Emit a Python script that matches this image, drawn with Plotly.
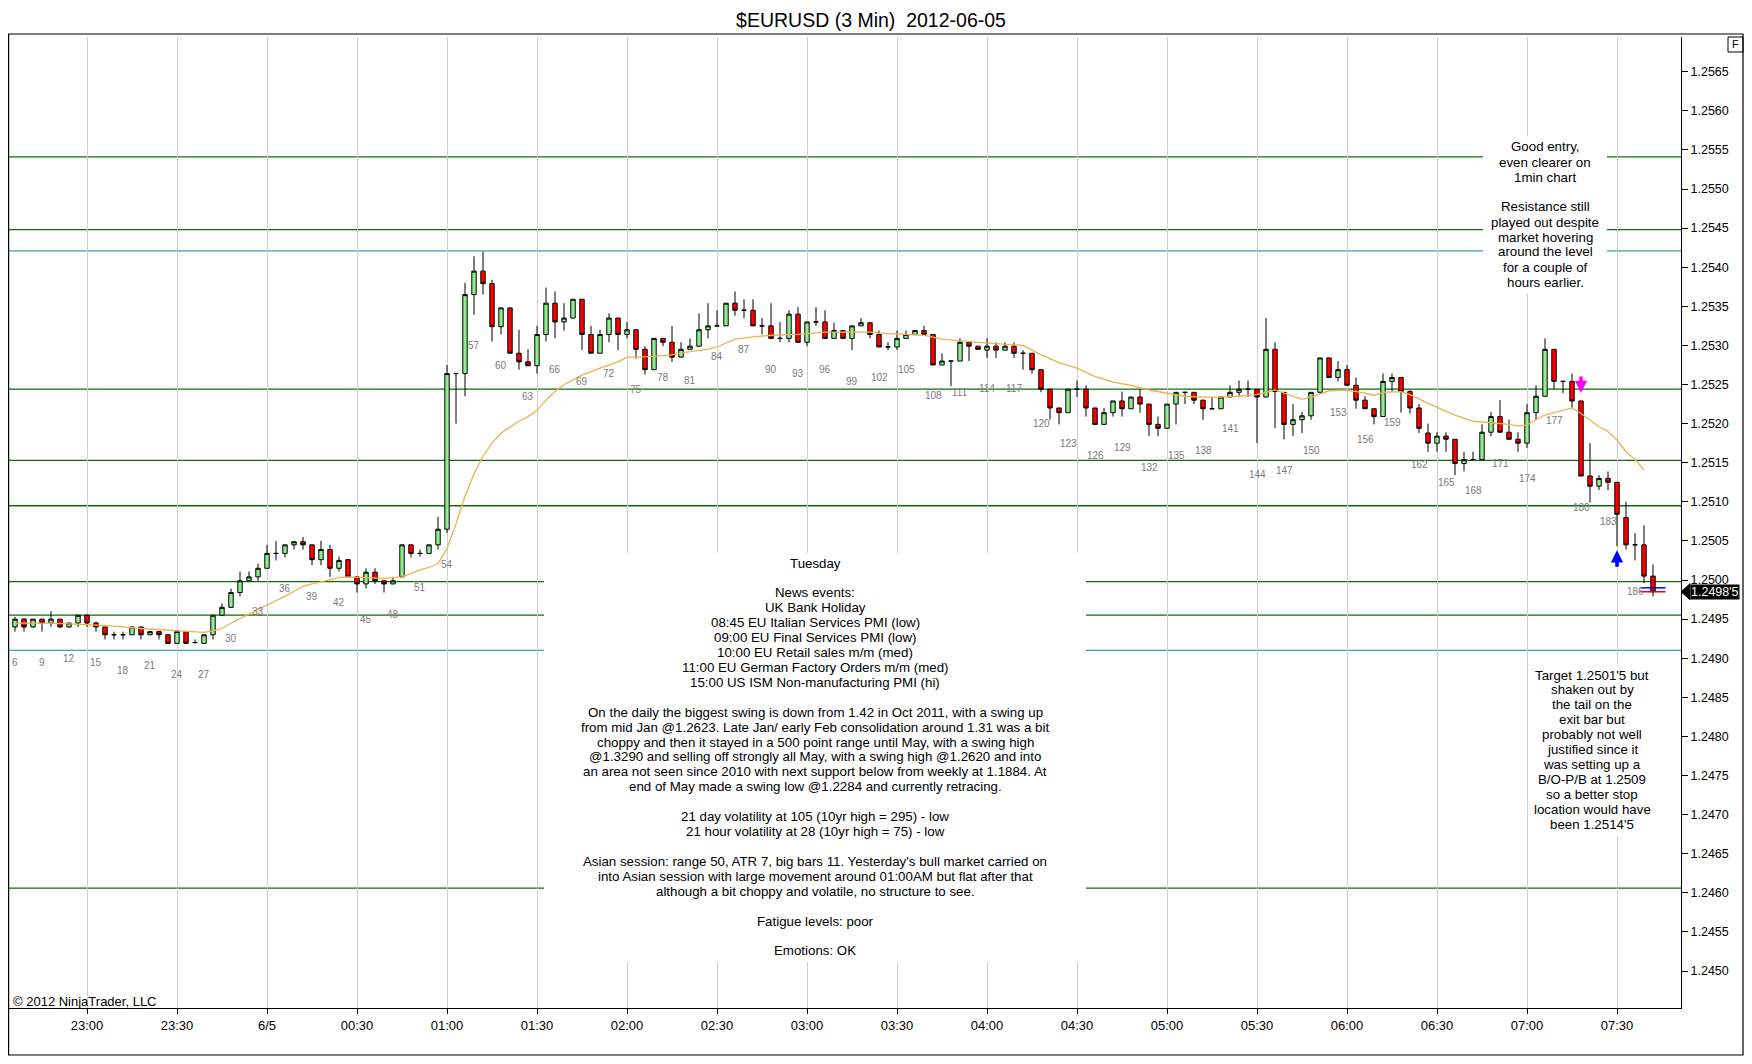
import plotly.graph_objects as go

# 3 min bars, numbered as on the chart (bar 14 = 23:00)
bars = list(range(6, 189))

opens = [
    1.24940, 1.24950, 1.24940, 1.24950, 1.24945, 1.24950, 1.24940, 1.24945, 1.24955, 1.24945,
    1.24940, 1.24930, 1.24930, 1.24930, 1.24940, 1.24930, 1.24934, 1.24930, 1.24919, 1.24934,
    1.24920, 1.24919, 1.24930, 1.24955, 1.24965, 1.24984, 1.24999, 1.25004, 1.25015, 1.25034,
    1.25034, 1.25045, 1.25049, 1.25045, 1.25026, 1.25039, 1.25015, 1.25026, 1.25004, 1.24995,
    1.25010, 1.24999, 1.24995, 1.25004, 1.25045, 1.25034, 1.25034, 1.25045, 1.25065, 1.25264,
    1.25264, 1.25365, 1.25395, 1.25379, 1.25324, 1.25348, 1.25290, 1.25279, 1.25274, 1.25314,
    1.25354, 1.25330, 1.25335, 1.25359, 1.25314, 1.25290, 1.25314, 1.25335, 1.25314, 1.25320,
    1.25295, 1.25269, 1.25309, 1.25304, 1.25285, 1.25295, 1.25299, 1.25320, 1.25325, 1.25325,
    1.25354, 1.25345, 1.25345, 1.25325, 1.25325, 1.25309, 1.25309, 1.25340, 1.25304, 1.25330,
    1.25330, 1.25309, 1.25319, 1.25309, 1.25325, 1.25329, 1.25314, 1.25298, 1.25298, 1.25309,
    1.25314, 1.25319, 1.25314, 1.25275, 1.25280, 1.25280, 1.25304, 1.25299, 1.25294, 1.25299,
    1.25294, 1.25299, 1.25290, 1.25290, 1.25269, 1.25244, 1.25220, 1.25214, 1.25244, 1.25244,
    1.25220, 1.25199, 1.25214, 1.25229, 1.25219, 1.25234, 1.25225, 1.25199, 1.25194, 1.25225,
    1.25240, 1.25240, 1.25230, 1.25219, 1.25219, 1.25234, 1.25240, 1.25244, 1.25244, 1.25234,
    1.25295, 1.25240, 1.25199, 1.25205, 1.25210, 1.25240, 1.25284, 1.25259, 1.25269, 1.25249,
    1.25230, 1.25219, 1.25209, 1.25254, 1.25259, 1.25241, 1.25220, 1.25188, 1.25175, 1.25184,
    1.25180, 1.25149, 1.25154, 1.25154, 1.25189, 1.25209, 1.25189, 1.25180, 1.25175, 1.25214,
    1.25235, 1.25295, 1.25254, 1.25254, 1.25229, 1.25133, 1.25120, 1.25130, 1.25125, 1.25080,
    1.25045, 1.25045, 1.25005]

highs = [
    1.24953, 1.24951, 1.24950, 1.24950, 1.24960, 1.24950, 1.24945, 1.24955, 1.24956, 1.24947,
    1.24940, 1.24934, 1.24934, 1.24940, 1.24940, 1.24935, 1.24935, 1.24930, 1.24934, 1.24934,
    1.24924, 1.24930, 1.24955, 1.24970, 1.24989, 1.25011, 1.25011, 1.25021, 1.25045, 1.25050,
    1.25045, 1.25049, 1.25055, 1.25045, 1.25050, 1.25045, 1.25030, 1.25026, 1.25004, 1.25015,
    1.25015, 1.24999, 1.25004, 1.25045, 1.25045, 1.25039, 1.25045, 1.25081, 1.25275, 1.25265,
    1.25380, 1.25414, 1.25420, 1.25384, 1.25348, 1.25348, 1.25320, 1.25295, 1.25325, 1.25374,
    1.25369, 1.25354, 1.25359, 1.25359, 1.25325, 1.25320, 1.25341, 1.25335, 1.25330, 1.25320,
    1.25299, 1.25309, 1.25309, 1.25325, 1.25304, 1.25309, 1.25341, 1.25354, 1.25345, 1.25354,
    1.25369, 1.25359, 1.25359, 1.25335, 1.25354, 1.25330, 1.25345, 1.25349, 1.25330, 1.25349,
    1.25345, 1.25329, 1.25319, 1.25325, 1.25335, 1.25329, 1.25319, 1.25304, 1.25319, 1.25319,
    1.25319, 1.25325, 1.25314, 1.25290, 1.25280, 1.25309, 1.25304, 1.25299, 1.25309, 1.25304,
    1.25304, 1.25304, 1.25294, 1.25290, 1.25269, 1.25244, 1.25220, 1.25244, 1.25255, 1.25249,
    1.25220, 1.25220, 1.25229, 1.25241, 1.25234, 1.25244, 1.25225, 1.25209, 1.25225, 1.25240,
    1.25240, 1.25240, 1.25230, 1.25234, 1.25234, 1.25249, 1.25255, 1.25255, 1.25244, 1.25335,
    1.25304, 1.25240, 1.25225, 1.25215, 1.25240, 1.25284, 1.25284, 1.25280, 1.25275, 1.25259,
    1.25235, 1.25219, 1.25264, 1.25264, 1.25259, 1.25243, 1.25225, 1.25200, 1.25189, 1.25189,
    1.25180, 1.25164, 1.25164, 1.25199, 1.25215, 1.25230, 1.25205, 1.25189, 1.25225, 1.25249,
    1.25309, 1.25295, 1.25254, 1.25264, 1.25229, 1.25175, 1.25134, 1.25139, 1.25125, 1.25100,
    1.25060, 1.25070, 1.25020]

lows = [
    1.24934, 1.24934, 1.24939, 1.24934, 1.24940, 1.24939, 1.24939, 1.24940, 1.24940, 1.24934,
    1.24924, 1.24924, 1.24924, 1.24930, 1.24924, 1.24930, 1.24924, 1.24919, 1.24919, 1.24919,
    1.24919, 1.24919, 1.24924, 1.24954, 1.24965, 1.24979, 1.24999, 1.24999, 1.25015, 1.25025,
    1.25029, 1.25039, 1.25039, 1.25019, 1.25019, 1.25004, 1.25011, 1.25004, 1.24984, 1.24989,
    1.24995, 1.24984, 1.24995, 1.25004, 1.25029, 1.25030, 1.25034, 1.25039, 1.25060, 1.25200,
    1.25235, 1.25339, 1.25365, 1.25305, 1.25314, 1.25290, 1.25269, 1.25274, 1.25264, 1.25305,
    1.25309, 1.25319, 1.25335, 1.25294, 1.25290, 1.25290, 1.25304, 1.25294, 1.25309, 1.25283,
    1.25263, 1.25269, 1.25299, 1.25279, 1.25285, 1.25295, 1.25299, 1.25309, 1.25325, 1.25325,
    1.25338, 1.25335, 1.25325, 1.25314, 1.25309, 1.25304, 1.25304, 1.25304, 1.25299, 1.25325,
    1.25309, 1.25309, 1.25309, 1.25294, 1.25325, 1.25309, 1.25298, 1.25294, 1.25294, 1.25309,
    1.25314, 1.25314, 1.25275, 1.25275, 1.25248, 1.25280, 1.25280, 1.25295, 1.25284, 1.25284,
    1.25294, 1.25284, 1.25269, 1.25264, 1.25240, 1.25205, 1.25199, 1.25214, 1.25234, 1.25209,
    1.25199, 1.25199, 1.25209, 1.25209, 1.25219, 1.25214, 1.25184, 1.25184, 1.25194, 1.25199,
    1.25225, 1.25225, 1.25205, 1.25219, 1.25219, 1.25234, 1.25234, 1.25234, 1.25175, 1.25234,
    1.25194, 1.25180, 1.25184, 1.25188, 1.25205, 1.25240, 1.25259, 1.25254, 1.25249, 1.25219,
    1.25219, 1.25199, 1.25209, 1.25241, 1.25214, 1.25213, 1.25188, 1.25164, 1.25164, 1.25164,
    1.25134, 1.25139, 1.25154, 1.25154, 1.25184, 1.25189, 1.25180, 1.25164, 1.25169, 1.25205,
    1.25235, 1.25244, 1.25239, 1.25220, 1.25133, 1.25099, 1.25115, 1.25115, 1.25043, 1.25039,
    1.25025, 1.24996, 1.24979]

closes = [
    1.24950, 1.24940, 1.24950, 1.24945, 1.24950, 1.24940, 1.24945, 1.24955, 1.24945, 1.24940,
    1.24930, 1.24930, 1.24930, 1.24940, 1.24930, 1.24934, 1.24930, 1.24919, 1.24934, 1.24919,
    1.24920, 1.24930, 1.24955, 1.24965, 1.24984, 1.24999, 1.25004, 1.25015, 1.25034, 1.25034,
    1.25045, 1.25049, 1.25045, 1.25026, 1.25039, 1.25015, 1.25025, 1.25004, 1.24995, 1.25010,
    1.24999, 1.24995, 1.24999, 1.25045, 1.25034, 1.25034, 1.25045, 1.25065, 1.25264, 1.25264,
    1.25365, 1.25395, 1.25379, 1.25324, 1.25348, 1.25290, 1.25279, 1.25274, 1.25314, 1.25354,
    1.25330, 1.25335, 1.25359, 1.25314, 1.25290, 1.25314, 1.25335, 1.25314, 1.25320, 1.25295,
    1.25269, 1.25309, 1.25304, 1.25285, 1.25295, 1.25299, 1.25320, 1.25325, 1.25325, 1.25354,
    1.25345, 1.25345, 1.25325, 1.25325, 1.25309, 1.25309, 1.25340, 1.25304, 1.25330, 1.25330,
    1.25309, 1.25319, 1.25309, 1.25325, 1.25329, 1.25314, 1.25298, 1.25298, 1.25309, 1.25314,
    1.25319, 1.25314, 1.25275, 1.25280, 1.25280, 1.25304, 1.25299, 1.25295, 1.25299, 1.25294,
    1.25299, 1.25290, 1.25290, 1.25269, 1.25244, 1.25220, 1.25214, 1.25244, 1.25244, 1.25220,
    1.25199, 1.25214, 1.25229, 1.25219, 1.25234, 1.25225, 1.25199, 1.25194, 1.25225, 1.25240,
    1.25240, 1.25230, 1.25219, 1.25219, 1.25234, 1.25240, 1.25244, 1.25244, 1.25234, 1.25295,
    1.25241, 1.25199, 1.25205, 1.25210, 1.25240, 1.25284, 1.25259, 1.25269, 1.25249, 1.25230,
    1.25219, 1.25209, 1.25254, 1.25259, 1.25241, 1.25220, 1.25194, 1.25175, 1.25184, 1.25180,
    1.25149, 1.25154, 1.25154, 1.25189, 1.25209, 1.25189, 1.25180, 1.25175, 1.25214, 1.25235,
    1.25295, 1.25254, 1.25254, 1.25229, 1.25133, 1.25120, 1.25130, 1.25125, 1.25084, 1.25045,
    1.25045, 1.25005, 1.24985]

# moving average
ema_bars = [6, 10, 14, 17, 20, 24, 26, 27, 28, 29, 30, 31, 32, 33, 34, 36, 38, 39, 41, 42,
            43, 45, 47, 49, 51, 52, 53, 54, 55, 56, 57, 58, 59, 60, 61, 62, 63, 64, 65, 66,
            67, 68, 69, 71, 73, 74, 75, 77, 79, 81, 83, 84, 86, 88, 90, 93, 96, 101, 103, 107,
            109, 113, 117, 118, 120, 122, 124, 126, 128, 130, 132, 134, 136, 138, 140, 142, 144, 146, 148, 149,
            150, 152, 154, 156, 157, 158, 160, 161, 163, 166, 168, 170, 172, 173, 174, 175, 176, 178, 179, 180,
            182, 183, 184, 185, 186, 187]
ema_values = [1.24945, 1.24945, 1.24943, 1.24941, 1.24938, 1.24935, 1.24933, 1.24933, 1.24935, 1.24938,
              1.24945, 1.24951, 1.24957, 1.24963, 1.24968, 1.24979, 1.24992, 1.24995, 1.25000, 1.25003,
              1.25004, 1.25003, 1.25002, 1.25004, 1.25013, 1.25016, 1.25021, 1.25040, 1.25072, 1.25107,
              1.25136, 1.25158, 1.25175, 1.25188, 1.25196, 1.25203, 1.25209, 1.25217, 1.25230, 1.25241,
              1.25250, 1.25256, 1.25262, 1.25271, 1.25279, 1.25285, 1.25285, 1.25286, 1.25288, 1.25292,
              1.25295, 1.25298, 1.25308, 1.25311, 1.25313, 1.25314, 1.25317, 1.25317, 1.25315, 1.25313,
              1.25308, 1.25304, 1.25301, 1.25300, 1.25288, 1.25278, 1.25271, 1.25260, 1.25253, 1.25249,
              1.25243, 1.25239, 1.25235, 1.25234, 1.25234, 1.25235, 1.25237, 1.25243, 1.25235, 1.25231,
              1.25234, 1.25242, 1.25243, 1.25239, 1.25236, 1.25240, 1.25241, 1.25237, 1.25226, 1.25211,
              1.25203, 1.25201, 1.25199, 1.25197, 1.25198, 1.25205, 1.25211, 1.25217, 1.25220, 1.25213,
              1.25196, 1.25190, 1.25179, 1.25164, 1.25154, 1.25141]

green_levels = [1.25541, 1.25448, 1.25244, 1.25153, 1.25095, 1.24998, 1.24955, 1.24606]
teal_levels = [1.25421, 1.24910]

label_bars = list(range(6, 187, 3))

x_tick_bars = [14, 24, 34, 44, 54, 64, 74, 84, 94, 104, 114, 124, 134, 144, 154, 164, 174, 184]
x_tick_text = ["23:00", "23:30", "6/5", "00:30", "01:00", "01:30", "02:00", "02:30", "03:00",
               "03:30", "04:00", "04:30", "05:00", "05:30", "06:00", "06:30", "07:00", "07:30"]
y_ticks = [1.2450, 1.2455, 1.2460, 1.2465, 1.2470, 1.2475, 1.2480, 1.2485, 1.2490, 1.2495,
           1.2500, 1.2505, 1.2510, 1.2515, 1.2520, 1.2525, 1.2530, 1.2535, 1.2540, 1.2545,
           1.2550, 1.2555, 1.2560, 1.2565]

# entry / exit arrows and order marks on the last bar
short_entry = (180, 1.25239)
cover_exit = (184, 1.25038)
order_marks = [1.24990, 1.24985]

notes_center = [
    "Tuesday", "", "News events:", "UK Bank Holiday",
    "08:45 EU Italian Services PMI (low)",
    "09:00 EU Final Services PMI (low)",
    "10:00 EU Retail sales m/m (med)",
    "11:00 EU German Factory Orders m/m (med)",
    "15:00 US ISM Non-manufacturing PMI (hi)", "",
    "On the daily the biggest swing is down from 1.42 in Oct 2011, with a swing up",
    "from mid Jan @1.2623. Late Jan/ early Feb consolidation around 1.31 was a bit",
    "choppy and then it stayed in a 500 point range until May, with a swing high",
    "@1.3290 and selling off strongly all May, with a swing high @1.2620 and into",
    "an area not seen since 2010 with next support below from weekly at 1.1884. At",
    "end of May made a swing low @1.2284 and currently retracing.", "",
    "21 day volatility at 105 (10yr high = 295) - low",
    "21 hour volatility at 28 (10yr high = 75) - low", "",
    "Asian session: range 50, ATR 7, big bars 11. Yesterday's bull market carried on",
    "into Asian session with large movement around 01:00AM but flat after that",
    "although a bit choppy and volatile, no structure to see.", "",
    "Fatigue levels: poor", "",
    "Emotions: OK"]
notes_top = ["Good entry,", "even clearer on", "1min chart", "",
             "Resistance still", "played out despite", "market hovering",
             "around the level", "for a couple of", "hours earlier."]
notes_bottom = ["Target 1.2501'5 but", "shaken out by", "the tail on the", "exit bar but",
                "probably not well", "justified since it", "was setting up a",
                "B/O-P/B at 1.2509", "so a better stop", "location would have", "been 1.2514'5"]

# page geometry in screen pixels; the page body adds an 8px margin all round
OFF = 8
W, H = 1752 - 2 * OFF, 1064 - 2 * OFF
PLOT_L, PLOT_R, PLOT_T, PLOT_B = 8, 1681, 37, 1008
PW, PH = PLOT_R - PLOT_L, PLOT_B - PLOT_T
FONT = "Liberation Sans, Arial, sans-serif"


def px(x):
    return (x - PLOT_L) / PW


def py(y):
    return (PLOT_B - y) / PH


fig = go.Figure()

fig.add_trace(go.Scatter(x=ema_bars, y=ema_values, mode='lines',
                         line=dict(color='#F0B050', width=1.3), hoverinfo='skip'))

fig.add_trace(go.Candlestick(x=bars, open=opens, high=highs, low=lows, close=closes,
                             increasing=dict(fillcolor='#90EE90', line=dict(color='black', width=1)),
                             decreasing=dict(fillcolor='#FF0000', line=dict(color='black', width=1)),
                             whiskerwidth=0))

fig.add_trace(go.Scatter(x=[bars[-1], bars[-1]], y=order_marks, mode='markers',
                         marker=dict(symbol='line-ew', size=18,
                                     line=dict(color=['#0000FF', '#FF0000'], width=1.5)),
                         hoverinfo='skip'))

shapes = []
for lvl in green_levels:
    shapes.append(dict(type='line', xref='paper', yref='y', x0=0, x1=1, y0=lvl, y1=lvl,
                       line=dict(color='#0A6E0A', width=1.3), layer='between'))
for lvl in teal_levels:
    shapes.append(dict(type='line', xref='paper', yref='y', x0=0, x1=1, y0=lvl, y1=lvl,
                       line=dict(color='#34A3AE', width=1.3), layer='between'))

# white text boxes (hide the lines behind the notes)
for (x0, x1, y0, y1) in [(544, 1086, 553, 962), (1483, 1607, 136, 293), (1530, 1654, 664, 836)]:
    shapes.append(dict(type='rect', xref='paper', yref='paper',
                       x0=px(x0), x1=px(x1), y0=py(y1), y1=py(y0),
                       fillcolor='white', line=dict(width=0), layer='above'))

# outer frame and the little "F" box
shapes.append(dict(type='rect', xref='paper', yref='paper', x0=px(8.6), x1=px(1743),
                   y0=py(1055), y1=py(34), line=dict(color='black', width=1.2), layer='above'))
shapes.append(dict(type='rect', xref='paper', yref='paper', x0=px(1728), x1=px(1743),
                   y0=py(52), y1=py(37), line=dict(color='black', width=1), layer='above'))

# pointer of the last-price box
shapes.append(dict(type='path', xref='paper', yref='y', xsizemode='pixel', ysizemode='pixel',
                   xanchor=1, yanchor=closes[-1], path='M 0,0 L 9,8 L 9,-8 Z',
                   fillcolor='black', line=dict(color='black', width=1), layer='above'))

annotations = []
for b in label_bars:
    annotations.append(dict(x=b, y=lows[b - bars[0]], text=str(b), showarrow=False,
                            yshift=-31, font=dict(size=10, color='#7A7A7A')))


def add_lines(lines, cx, y_first, step, size=13.3):
    for i, line in enumerate(lines):
        if line:
            annotations.append(dict(x=px(cx), y=py(y_first + i * step), xref='paper', yref='paper',
                                    text=line, showarrow=False, xanchor='center', yanchor='middle',
                                    font=dict(size=size, color='black')))


add_lines(notes_center, 815, 563, 14.92)
add_lines(notes_top, 1545, 147, 15.0)
add_lines(notes_bottom, 1592, 675, 14.96)

annotations.append(dict(x=px(11), y=py(1001), xref='paper', yref='paper', text="© 2012 NinjaTrader, LLC",
                        showarrow=False, xanchor='left', yanchor='middle', font=dict(size=13, color='black')))
annotations.append(dict(x=px(1735.5), y=py(44.5), xref='paper', yref='paper', text="F",
                        showarrow=False, xanchor='center', yanchor='middle', font=dict(size=11, color='black')))
annotations.append(dict(x=1, y=closes[-1], xref='paper', yref='y', text="1.2498'5", showarrow=False,
                        xanchor='left', yanchor='middle', xshift=9, bgcolor='black', borderpad=0,
                        font=dict(size=12.5, color='white')))

annotations.append(dict(x=short_entry[0], y=short_entry[1], text='', showarrow=True, ax=0, ay=-18,
                        arrowhead=2, arrowsize=0.7, arrowwidth=3.5, arrowcolor='#FF00FF', standoff=0))
annotations.append(dict(x=cover_exit[0], y=cover_exit[1], text='', showarrow=True, ax=0, ay=18,
                        arrowhead=2, arrowsize=0.7, arrowwidth=3.5, arrowcolor='#0000FF', standoff=0))

# bar n sits at screen x = 9n - 39
x_lo = (PLOT_L + 39) / 9
x_hi = (PLOT_R + 39) / 9

fig.update_layout(
    width=W, height=H,
    margin=dict(l=PLOT_L - OFF, r=W - (PLOT_R - OFF), t=PLOT_T - OFF, b=H - (PLOT_B - OFF), pad=0),
    paper_bgcolor='white', plot_bgcolor='white',
    font=dict(family=FONT, color='black'),
    title=dict(text="$EURUSD (3 Min)\u00a0 2012-06-05", x=(871 - OFF) / W, xanchor='center',
               y=1 - (20 - OFF) / H, yanchor='middle', font=dict(size=19.5, color='black')),
    showlegend=False,
    shapes=shapes,
    annotations=annotations,
    xaxis=dict(range=[x_lo, x_hi], tickvals=x_tick_bars, ticktext=x_tick_text,
               showgrid=True, gridcolor='#CFCFCF', gridwidth=1, zeroline=False,
               showline=True, linecolor='black', linewidth=1,
               ticks='outside', ticklen=5, tickcolor='black',
               tickfont=dict(size=13), rangeslider=dict(visible=False)),
    yaxis=dict(range=[1.244527, 1.256944], side='right', tickvals=y_ticks, tickformat='.4f',
               showgrid=False, zeroline=False, showline=True, linecolor='black', linewidth=1,
               ticks='outside', ticklen=6, tickcolor='black', tickfont=dict(size=12.5)),
)

fig.write_html("out.html")
